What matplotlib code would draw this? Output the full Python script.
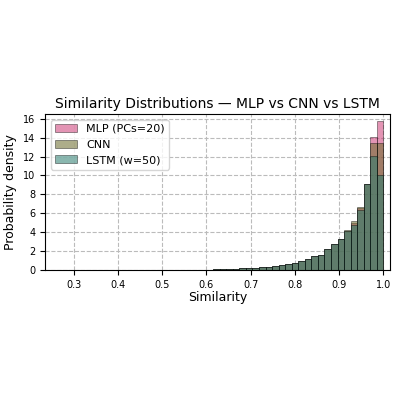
import numpy as np
import matplotlib
matplotlib.use("Agg")
import matplotlib.pyplot as plt

edges = np.linspace(0.26, 1.0, 51)
tail = [0.0, 0.0, 0.0, 0.0, 0.0, 0.0, 0.0, 0.0, 0.0, 0.0,
        0.0, 0.0, 0.0, 0.0, 0.0, 0.0, 0.0, 0.0, 0.0, 0.01,
        0.02, 0.03, 0.04, 0.06, 0.08, 0.1, 0.13, 0.16, 0.2, 0.24,
        0.28, 0.36, 0.43, 0.5, 0.65, 0.72, 1.0, 1.2, 1.5, 1.6,
        2.2, 2.7, 3.3, 4.1, 5.0, 6.6, 9.1, 14.1, 15.8]
mlp = [0.0] + tail
cnn = [0.0] + tail[:-2] + [13.4, 13.4]
cnn[-4] = 6.7; cnn[-5] = 5.2; cnn[-6] = 4.2
lstm = [0.0] + tail[:-2] + [12.1, 10.0]
lstm[-4] = 6.3; lstm[-5] = 4.8
lstm[30] = 0.25; lstm[31] = 0.3; lstm[33] = 0.42

labels = ["MLP (PCs=20)", "CNN", "LSTM (w=50)"]
colors = ["#cc3d77", "#6b6b2a", "#2a7c6e"]

fig = plt.figure(figsize=(4, 4), dpi=100)
ax = fig.add_axes([0.1125, 0.325, 0.8625, 0.39])
centers = (edges[:-1] + edges[1:]) / 2
for vals, lab, c in zip([mlp, cnn, lstm], labels, colors):
    ax.hist(centers, bins=edges, weights=vals, color=c, alpha=0.55,
            edgecolor="black", linewidth=0.5, label=lab)
ax.set_xlim(0.235, 1.015)
ax.set_ylim(0, 16.5)
ax.set_yticks(range(0, 17, 2))
ax.grid(True, linestyle="--", color="#bbbbbb", linewidth=0.8)
ax.set_axisbelow(True)
ax.tick_params(labelsize=7)
ax.set_xlabel("Similarity", fontsize=9, labelpad=1)
ax.set_ylabel("Probability density", fontsize=9)
ax.set_title("Similarity Distributions — MLP vs CNN vs LSTM", fontsize=10, pad=4)
ax.legend(loc="upper left", fontsize=8)
fig.savefig("out.png", dpi=100)
